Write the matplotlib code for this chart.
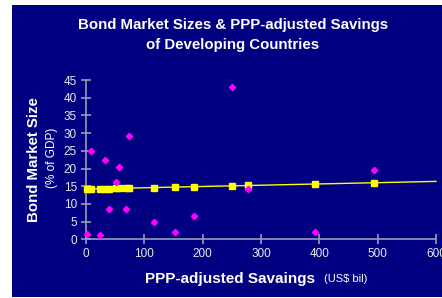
import matplotlib
matplotlib.use("Agg")
import matplotlib.pyplot as plt
from matplotlib.patches import Rectangle

plt.rcParams['font.family'] = ['Liberation Sans', 'DejaVu Sans']

# PPP-adjusted savings (US$ bil) and bond market size (% of GDP)
savings = [2.2, 9, 24, 32, 40, 52, 57, 68.6, 74, 117, 152.6, 185.8, 251, 278, 392, 494]
bond_size = [1.4, 24.9, 1.2, 22.3, 8.6, 16.1, 20.5, 8.6, 29.3, 5.0, 2.2, 6.5, 42.9, 14.1, 2.0, 19.6]
# trend values shown as yellow squares at each country
trend_size = [14.2, 14.2, 14.3, 14.3, 14.3, 14.4, 14.4, 14.4, 14.5, 14.6, 14.7, 14.9,
              15.1, 15.2, 15.6, 16.0]
# trend line ends
trend_x = [0, 600]
trend_y = [14.2, 16.36]

W, H = 442, 298
navy = '#000080'
axis_gray = '#9a9ab8'
fig = plt.figure(figsize=(W / 100, H / 100), dpi=100)
fig.patch.set_facecolor('white')
fig.add_artist(Rectangle((12 / W, 1 - 297 / H), (W - 12) / W, (297 - 5) / H,
                         transform=fig.transFigure, facecolor=navy, edgecolor='none', zorder=0))

ax = fig.add_axes([86 / W, 1 - 239.3 / H, (436 - 86) / W, (239.3 - 80) / H])
ax.set_facecolor(navy)
ax.patch.set_alpha(0)

ax.plot(trend_x, trend_y, color='yellow', lw=1, zorder=2, clip_on=False)
ax.plot(savings, trend_size, 's', color='yellow', ms=4, zorder=3, clip_on=False)
ax.plot(savings, bond_size, 'D', color='#ff00ff', ms=3.2, zorder=4, clip_on=False)

ax.set_xlim(0, 600)
ax.set_ylim(0, 45)
ax.set_xticks(range(0, 601, 100))
ax.set_yticks(range(0, 46, 5))
for s in ['top', 'right']:
    ax.spines[s].set_visible(False)
for s in ['left', 'bottom']:
    ax.spines[s].set_color(axis_gray)
    ax.spines[s].set_linewidth(1.2)
ax.tick_params(direction='inout', length=7, width=1.2, color=axis_gray,
               labelcolor='#e8e8f0', labelsize=8.5, pad=3)

fig.text(233 / W, 1 - 25 / H, 'Bond Market Sizes & PPP-adjusted Savings',
         ha='center', va='center', color='white', fontsize=10.8, fontweight='bold')
fig.text(233 / W, 1 - 45 / H, 'of Developing Countries',
         ha='center', va='center', color='white', fontsize=10.8, fontweight='bold')

fig.text(34 / W, 1 - 159.5 / H, 'Bond Market Size', rotation=90, ha='center', va='center',
         color='white', fontsize=10.8, fontweight='bold')
fig.text(52 / W, 1 - 158 / H, '(% of GDP)', rotation=90, ha='center', va='center',
         color='white', fontsize=8.5)

fig.text(315 / W, 1 - 279 / H, 'PPP-adjusted Savaings', ha='right', va='center',
         color='white', fontsize=11, fontweight='bold')
fig.text(324 / W, 1 - 279 / H, '(US$ bil)', ha='left', va='center',
         color='white', fontsize=8)

fig.savefig('out.png', dpi=100, facecolor='white')
